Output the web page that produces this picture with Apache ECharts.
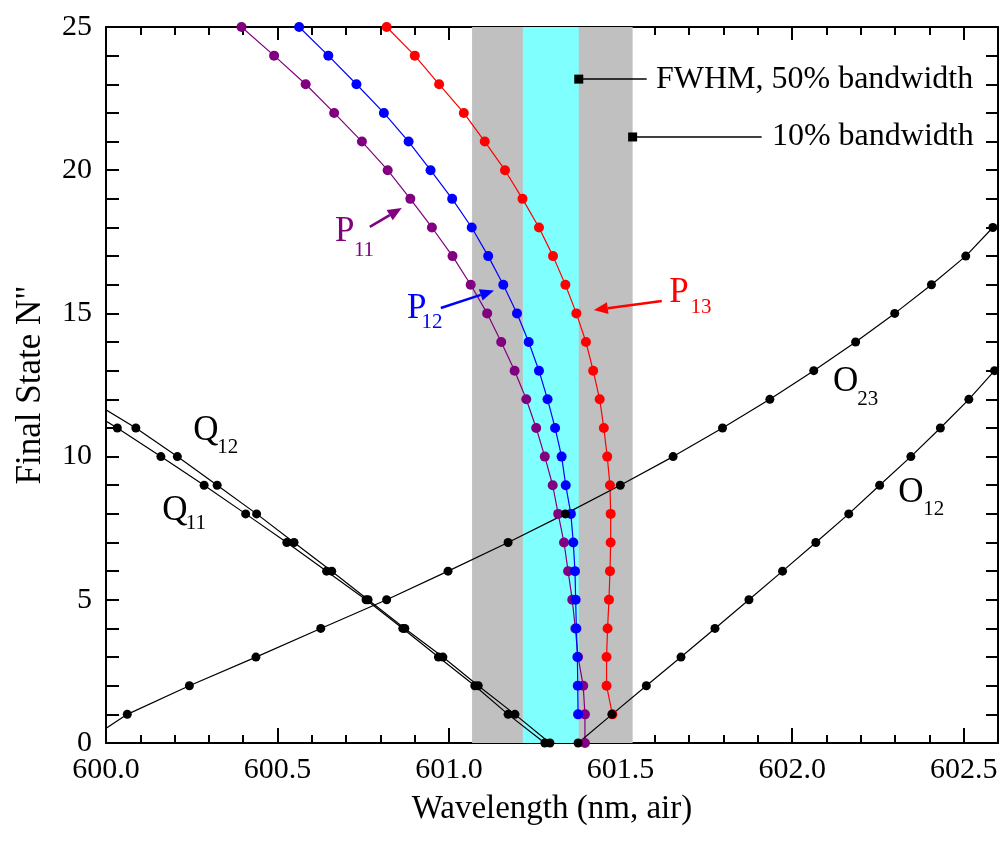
<!DOCTYPE html>
<html>
<head>
<meta charset="utf-8">
<script src="https://cdn.jsdelivr.net/npm/echarts@6/dist/echarts.min.js"></script>
<style>
  html, body { margin: 0; padding: 0; background: #fff; }
  #main { width: 1000px; height: 846px; }
</style>
</head>
<body>
<div id="main"></div>
<script>
// final state N'' for each branch
const nP11 = [0,1,2,3,4,5,6,7,8,9,10,11,12,13,14,15,16,17,18,19,20,21,22,23,24,25];
const xP11 = [601.396,601.396,601.391,601.376,601.368,601.359,601.347,601.335,601.318,601.302,601.279,601.254,601.225,
              601.191,601.152,601.111,601.063,601.010,600.950,600.887,600.821,600.746,600.665,600.582,600.490,600.395];
const nP12 = [1,2,3,4,5,6,7,8,9,10,11,12,13,14,15,16,17,18,19,20,21,22,23,24,25];
const xP12 = [601.376,601.375,601.374,601.371,601.369,601.367,601.362,601.355,601.340,601.328,601.309,601.287,601.262,
              601.232,601.198,601.158,601.114,601.066,601.009,600.946,600.882,600.810,600.730,600.648,600.563];
const nP13 = [1,2,3,4,5,6,7,8,9,10,11,12,13,14,15,16,17,18,19,20,21,22,23,24,25];
const xP13 = [601.476,601.459,601.459,601.462,601.466,601.469,601.471,601.471,601.469,601.461,601.451,601.439,601.420,
              601.399,601.371,601.339,601.303,601.262,601.214,601.163,601.104,601.043,600.971,600.900,600.818];
const nQ = [0,1,2,3,4,5,6,7,8,9,10,11,12];
const xQ11 = [601.279,601.172,601.075,600.969,600.865,600.758,600.643,600.527,600.407,600.286,600.160,600.033,599.895];
const xQ12 = [601.294,601.192,601.085,600.982,600.871,600.764,600.658,600.548,600.439,600.324,600.208,600.087,599.949];
const nO12 = [0,1,2,3,4,5,6,7,8,9,10,11,12,13];
const xO12 = [601.376,601.475,601.575,601.676,601.775,601.874,601.972,602.069,602.165,602.255,602.346,602.432,602.515,602.590];
const nO23 = [0,1,2,3,4,5,6,7,8,9,10,11,12,13,14,15,16,17,18];
const xO23 = [599.935,600.062,600.243,600.437,600.626,600.818,600.997,601.172,601.339,601.499,601.653,601.797,601.935,
              602.063,602.185,602.299,602.406,602.506,602.585];

// filter bandwidths (nm)
const band10 = [601.067, 601.535];
const band50 = [601.215, 601.378];

// axis ranges
const xRange = [600, 602.6];
const yRange = [0, 25];

const serif = 'Liberation Serif';

function pairs(xs, ns) {
  return xs.map((x, i) => [x, ns[i]]);
}

function branch(name, xs, ns, color, size) {
  return {
    name: name,
    type: 'line',
    data: pairs(xs, ns),
    symbol: 'circle',
    symbolSize: size,
    showAllSymbol: true,
    clip: true,
    z: 3,
    itemStyle: { color: color },
    lineStyle: { color: color, width: 1.2 }
  };
}

function bandMarker(x, y, x2) {
  return {
    type: 'line',
    z: 4,
    data: [
      { value: [x, y], symbol: 'rect', symbolSize: 9 },
      { value: [x2, y], symbol: 'none' }
    ],
    itemStyle: { color: '#000' },
    lineStyle: { color: '#000', width: 1.5 }
  };
}

const tickLab = { fontFamily: serif, fontSize: 30, color: '#000' };
const axisLine = { show: true, lineStyle: { color: '#000', width: 2 } };

const chart = echarts.init(document.getElementById('main'), null, { renderer: 'canvas' });

const option = {
  animation: false,
  backgroundColor: '#fff',
  grid: { left: 106, right: 2, top: 27, bottom: 103, outerBoundsMode: 'none' },
  xAxis: [
    {
      type: 'value', min: xRange[0], max: xRange[1], interval: 0.5, position: 'bottom',
      axisLine: axisLine,
      axisTick: { inside: true, length: 15, lineStyle: { color: '#000', width: 2 } },
      axisLabel: Object.assign({ margin: 12, showMaxLabel: false, formatter: v => v.toFixed(1) }, tickLab),
      splitLine: { show: false },
      name: 'Wavelength (nm, air)', nameLocation: 'middle', nameGap: 50,
      nameTextStyle: { fontFamily: serif, fontSize: 33, color: '#000' }
    },
    {
      type: 'value', min: xRange[0], max: xRange[1], interval: 0.1, position: 'bottom',
      axisLine: { show: false },
      axisTick: { inside: true, length: 8, lineStyle: { color: '#000', width: 2 } },
      axisLabel: { show: false }, splitLine: { show: false }
    },
    {
      type: 'value', min: xRange[0], max: xRange[1], interval: 0.5, position: 'top',
      axisLine: axisLine,
      axisTick: { inside: true, length: 13, lineStyle: { color: '#000', width: 2 } },
      axisLabel: { show: false }, splitLine: { show: false }
    },
    {
      type: 'value', min: xRange[0], max: xRange[1], interval: 0.1, position: 'top',
      axisLine: { show: false },
      axisTick: { inside: true, length: 8, lineStyle: { color: '#000', width: 2 } },
      axisLabel: { show: false }, splitLine: { show: false }
    }
  ],
  yAxis: [
    {
      type: 'value', min: yRange[0], max: yRange[1], interval: 5, position: 'left',
      axisLine: axisLine,
      axisTick: { inside: true, length: 13, lineStyle: { color: '#000', width: 2 } },
      minorTick: { show: true, splitNumber: 5, length: 13, lineStyle: { color: '#000', width: 2 } },
      axisLabel: Object.assign({ margin: 14 }, tickLab),
      splitLine: { show: false },
      name: 'Final State N"', nameLocation: 'middle', nameGap: 58, nameRotate: 90,
      nameTextStyle: { fontFamily: serif, fontSize: 35, color: '#000' }
    },
    {
      type: 'value', min: yRange[0], max: yRange[1], interval: 5, position: 'right',
      axisLine: axisLine,
      axisTick: { inside: true, length: 12, lineStyle: { color: '#000', width: 2 } },
      minorTick: { show: true, splitNumber: 5, length: 12, lineStyle: { color: '#000', width: 2 } },
      axisLabel: { show: false }, splitLine: { show: false }
    }
  ],
  series: [
    {
      name: 'bands',
      type: 'line',
      data: [],
      z: 1,
      markArea: {
        silent: true,
        data: [
          [{ xAxis: band10[0], itemStyle: { color: '#c0c0c0', opacity: 1 } }, { xAxis: band10[1] }],
          [{ xAxis: band50[0], itemStyle: { color: '#80ffff', opacity: 1 } }, { xAxis: band50[1] }]
        ]
      }
    },
    branch('P11', xP11, nP11, '#800080', 10),
    branch('P12', xP12, nP12, '#0000ff', 10),
    branch('P13', xP13, nP13, '#ff0000', 10),
    branch('Q11', xQ11, nQ, '#000', 9),
    branch('Q12', xQ12, nQ, '#000', 9),
    branch('O23', xO23, nO23, '#000', 9),
    branch('O12', xO12, nO12, '#000', 9),
    bandMarker(band50[1], 23.18, 601.576),
    bandMarker(band10[1], 21.16, 601.911)
  ]
};

chart.setOption(option);

// text annotations, placed in data coordinates
const branchLabels = [
  { t: 'P', s: '11', c: '#800080', at: [600.696, 17.86], sub: [600.752, 17.21], arrow: [[600.769, 18.02], [600.862, 18.68]] },
  { t: 'P', s: '12', c: '#0000ff', at: [600.906, 15.17], sub: [600.950, 14.70], arrow: [[600.976, 15.19], [601.131, 15.80]] },
  { t: 'P', s: '13', c: '#ff0000', at: [601.670, 15.71], sub: [601.734, 15.22], arrow: [[601.620, 15.43], [601.422, 15.12]] },
  { t: 'Q', s: '12', c: '#000', at: [600.291, 10.89], sub: [600.355, 10.32] },
  { t: 'Q', s: '11', c: '#000', at: [600.201, 8.10], sub: [600.262, 7.66] },
  { t: 'O', s: '23', c: '#000', at: [602.156, 12.60], sub: [602.220, 11.98] },
  { t: 'O', s: '12', c: '#000', at: [602.346, 8.73], sub: [602.413, 8.14] }
];
const bandTexts = [
  { text: 'FWHM, 50% bandwidth', at: [601.603, 23.18] },
  { text: '10% bandwidth', at: [601.941, 21.16] }
];

function toPx(p) {
  return chart.convertToPixel({ xAxisIndex: 0, yAxisIndex: 0 }, p);
}

function txt(text, p, size, color, align) {
  const q = toPx(p);
  return {
    type: 'text', x: q[0], y: q[1], z: 10,
    style: {
      text: text, fill: color, fontFamily: serif, fontSize: size,
      align: align, verticalAlign: 'middle', textAlign: align, textVerticalAlign: 'middle'
    }
  };
}

const graphics = [];
branchLabels.forEach(l => {
  graphics.push(txt(l.t, l.at, 35, l.c, 'center'));
  graphics.push(txt(l.s, l.sub, 21, l.c, 'center'));
  if (l.arrow) {
    const a = toPx(l.arrow[0]), b = toPx(l.arrow[1]);
    const dx = b[0] - a[0], dy = b[1] - a[1];
    const len = Math.sqrt(dx * dx + dy * dy);
    const ux = dx / len, uy = dy / len;
    const hl = 14, hw = 6;
    const base = [b[0] - ux * hl, b[1] - uy * hl];
    graphics.push({
      type: 'line', z: 10,
      shape: { x1: a[0], y1: a[1], x2: base[0], y2: base[1] },
      style: { stroke: l.c, lineWidth: 2.5 }
    });
    graphics.push({
      type: 'polygon', z: 10,
      shape: { points: [b, [base[0] - uy * hw, base[1] + ux * hw], [base[0] + uy * hw, base[1] - ux * hw]] },
      style: { fill: l.c }
    });
  }
});
bandTexts.forEach(b => graphics.push(txt(b.text, b.at, 32, '#000', 'left')));

chart.setOption({ graphic: graphics });
</script>
</body>
</html>
